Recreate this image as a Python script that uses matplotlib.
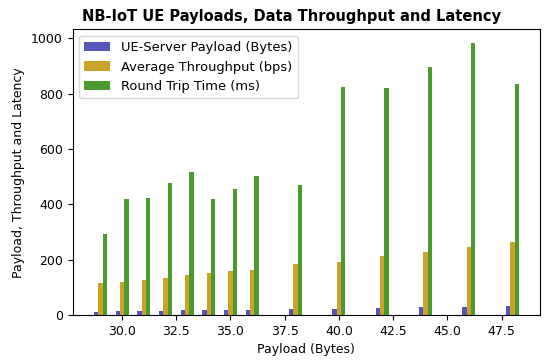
import numpy as np
import matplotlib
matplotlib.use("Agg")
import matplotlib.pyplot as plt

# --- data ---
payload = [29, 30, 31, 32, 33, 34, 35, 36, 38, 40, 42, 44, 46, 48]
ue_server = [13, 14, 15, 16, 17, 18, 19, 20, 22, 24, 26, 28, 30, 32]
throughput = [116, 121, 127, 134, 145, 153, 161, 164, 186, 191, 215, 229, 248, 266]
rtt = [292, 418, 423, 476, 519, 418, 455, 502, 472, 825, 822, 895, 984, 837]

x = np.array(payload, dtype=float)
w = 0.2

fig = plt.figure(figsize=(5.5, 3.61), dpi=100)
ax = fig.add_axes([0.132, 0.127, 0.85, 0.792])

ax.bar(x - w, ue_server, w, color='#5555bb', label='UE-Server Payload (Bytes)')
ax.bar(x, throughput, w, color='#c9a227', label='Average Throughput (bps)')
ax.bar(x + w, rtt, w, color='#4a9a2e', label='Round Trip Time (ms)')

ax.set_title("NB-IoT UE Payloads, Data Throughput and Latency",
             fontsize=10.5, fontweight='bold', x=0.468)
ax.set_xlabel("Payload (Bytes)", fontsize=9)
ax.set_ylabel("Payload, Throughput and Latency", fontsize=9)
ax.tick_params(labelsize=9)
ax.legend(loc='upper left', fontsize=9.4)

fig.savefig("out.png", dpi=100)
